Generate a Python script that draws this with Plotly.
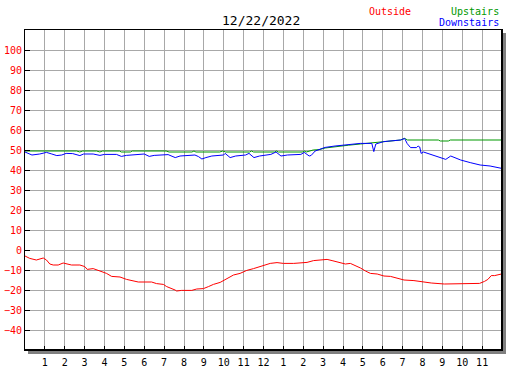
import plotly.graph_objects as go

# ---- data (hour of day, temperature) ----
hours_out = [0, 0.24, 0.57, 0.92, 1.08, 1.25, 1.42, 1.67, 1.92, 2.34, 2.76, 3.01, 3.13, 3.43, 3.77,
             4.10, 4.36, 4.78, 5.11, 5.45, 5.70, 6.37, 6.62, 6.96, 7.13, 7.55, 7.63, 7.88, 8.39, 8.64,
             8.98, 9.23, 9.48, 9.82, 10.15, 10.49, 10.82, 11.16, 11.5, 11.83, 12.17, 12.34, 12.68, 13.0,
             13.52, 14.19, 14.52, 15.2, 15.45, 15.79, 16.12, 16.37, 16.62, 16.88, 17.13, 17.38, 17.72,
             18.06, 18.39, 18.73, 19.07, 19.57, 20.1, 20.44, 21.1, 21.6, 21.94, 22.28, 22.87, 23.12,
             23.29, 23.46, 23.63, 23.97]
temps_out = [-3, -4.2, -5, -4, -5, -7, -7.5, -7.5, -6.5, -7.5, -7.5, -8.3, -9.7, -9.3, -10.5,
             -11.7, -13.2, -13.5, -14.7, -15.3, -16, -16, -16.8, -17.2, -18.3, -20, -20.5, -20.2, -20.2, -19.5,
             -19.3, -18.3, -17.2, -16.2, -14.3, -12.5, -11.7, -10.2, -9.3, -8.3, -7.2, -6.7, -6.3, -6.7,
             -6.7, -6.2, -5.3, -4.7, -5.3, -6, -7, -6.7, -7.7, -9, -10.5, -11.7, -12,
             -13, -13.2, -14, -15, -15.3, -16.2, -16.5, -17, -17, -17, -16.7, -16.7, -15.7,
             -14.7, -12.8, -12.8, -12]

hours_up = [0, 2.6, 2.76, 2.9, 3.6, 3.77, 3.9, 4.75, 4.85, 5.3, 5.4, 7.1, 7.25, 8.4, 8.5, 8.6,
            9.8, 9.95, 10.1, 11.3, 11.4, 11.5, 12.55, 12.65, 12.75, 13.95, 14.05, 14.15,
            14.5, 14.8, 15.1, 15.6, 16.28, 16.87, 17.45, 18.05, 18.9, 19.1, 19.25,
            20.8, 20.9, 21.3, 21.4, 24]
temps_up = [49.5, 49.5, 49, 49.5, 49.5, 49, 49.5, 49.5, 49, 49, 49.5, 49.5, 49, 49, 49.5, 49,
            49, 49.5, 49, 49, 49.5, 49, 49, 49.5, 49, 49, 49.5, 49,
            50, 50.2, 51, 51.7, 52.4, 53, 53.5, 54, 55, 55.8, 55,
            55, 54.5, 54.5, 55, 55]

hours_dn = [0, 0.35, 0.74, 1.08, 1.35, 1.6, 1.85, 2.07, 2.4, 2.76, 2.95, 3.43, 3.77, 4.0, 4.6,
            4.85, 5.1, 6.0, 6.25, 6.5, 7.2, 7.56, 7.8, 8.3, 8.55, 8.73, 8.9, 9.1, 9.4, 9.99,
            10.07, 10.32, 10.6, 11.1, 11.27, 11.52, 11.8, 12.37, 12.63, 12.88, 13.2, 13.88, 14.05,
            14.3, 14.4, 14.6, 14.8, 15.1, 15.6, 16.28, 16.87, 17.45, 17.55, 17.65, 18.05, 18.9,
            19.1, 19.23, 19.4, 19.7, 19.78, 19.86, 19.93, 20.05, 20.5, 21.17, 21.42, 21.92, 22.4,
            22.9, 23.4, 23.99]
temps_dn = [49, 47.5, 48, 48.8, 48, 47.2, 47.5, 48.3, 48.2, 47.2, 48, 48, 47.3, 47.8, 47.8,
            46.8, 47.3, 48, 46.8, 47.3, 47.7, 46.2, 47, 47.3, 47.5, 46.7, 45.5, 46.2, 47, 47.5,
            48.3, 46.2, 47, 47.5, 48.3, 46.2, 47, 47.8, 49, 47, 47.5, 47.8, 48.8,
            47, 47.3, 49.5, 50.3, 51.3, 52, 52.7, 53.3, 53.3, 49.2, 53, 54.2, 55,
            55.8, 53.2, 51.2, 51.2, 52, 51.5, 48.3, 49, 47.5, 45.3, 47, 45, 43.7,
            42.5, 42, 40.8]

x_tickvals = list(range(1, 24))
x_ticktext = [str(h) for h in range(1, 12)] + ["12"] + [str(h) for h in range(1, 12)]
y_tickvals = list(range(-40, 101, 10))
title_text = "12/22/2022"

FONT = "DejaVu Sans Mono"
W, H = 527, 370
L, R, T, B = 25, 25, 30, 20
pw, ph = W - L - R, H - T - B

fig = go.Figure()
fig.add_trace(go.Scatter(x=hours_out, y=temps_out, mode="lines",
                         line=dict(color="#ff0000", width=1), showlegend=False))
fig.add_trace(go.Scatter(x=hours_up, y=temps_up, mode="lines",
                         line=dict(color="#009900", width=1), showlegend=False))
fig.add_trace(go.Scatter(x=hours_dn, y=temps_dn, mode="lines",
                         line=dict(color="#0000ff", width=1), showlegend=False))

def px_x(p):
    return (p - L) / pw

def px_y(p):
    return (H - B - p) / ph

fig.update_layout(
    width=W, height=H,
    margin=dict(l=L, r=R, t=T, b=B, autoexpand=False),
    paper_bgcolor="white", plot_bgcolor="white",
    xaxis=dict(range=[0, 24], tickvals=x_tickvals, ticktext=x_ticktext,
               showgrid=True, gridcolor="#a8a8a8", gridwidth=1,
               ticks="inside", ticklen=4, tickcolor="black", tickwidth=1,
               showline=True, linecolor="black", linewidth=1, mirror=True,
               zeroline=False, tickfont=dict(family=FONT, size=10, color="black"),
               ticklabelstandoff=3,
               automargin=False, fixedrange=True),
    yaxis=dict(range=[-50, 110], tickvals=y_tickvals,
               showgrid=True, gridcolor="#a8a8a8", gridwidth=1,
               ticks="inside", ticklen=5, tickcolor="black", tickwidth=1,
               showline=True, linecolor="black", linewidth=1, mirror=True,
               zeroline=False, tickfont=dict(family=FONT, size=10, color="#ff0000"),
               automargin=False, fixedrange=True),
    shapes=[
        # shadow right
        dict(type="rect", xref="paper", yref="paper",
             x0=1 + 1 / pw, x1=1 + 4 / pw, y0=-4 / ph, y1=1 - 3 / ph,
             fillcolor="#808080", line=dict(width=0), layer="above"),
        # shadow bottom
        dict(type="rect", xref="paper", yref="paper",
             x0=3 / pw, x1=1 + 4 / pw, y0=-4 / ph, y1=-1 / ph,
             fillcolor="#808080", line=dict(width=0), layer="above"),
        dict(type="line", xref="paper", yref="paper", x0=1, x1=1, y0=0, y1=1,
             line=dict(color="black", width=2), layer="above"),
        dict(type="line", xref="paper", yref="paper", x0=0, x1=1, y0=0, y1=0,
             line=dict(color="black", width=2), layer="above"),
    ],
    annotations=[
        dict(text=title_text, xref="paper", yref="paper", x=px_x(261), y=px_y(20),
             xanchor="center", yanchor="middle", showarrow=False,
             font=dict(family=FONT, size=13, color="black")),
        dict(text="Outside", xref="paper", yref="paper", x=px_x(390), y=px_y(11),
             xanchor="center", yanchor="middle", showarrow=False,
             font=dict(family=FONT, size=10, color="#ff0000")),
        dict(text="Upstairs", xref="paper", yref="paper", x=px_x(501), y=px_y(11),
             xanchor="right", yanchor="middle", showarrow=False,
             font=dict(family=FONT, size=10, color="#009900")),
        dict(text="Downstairs", xref="paper", yref="paper", x=px_x(501), y=px_y(23),
             xanchor="right", yanchor="middle", showarrow=False,
             font=dict(family=FONT, size=10, color="#0000ff")),
    ],
)

fig.write_html("out.html", config={"displayModeBar": False, "staticPlot": True},
               post_script="document.body.style.margin='0';document.body.style.overflow='hidden';")
